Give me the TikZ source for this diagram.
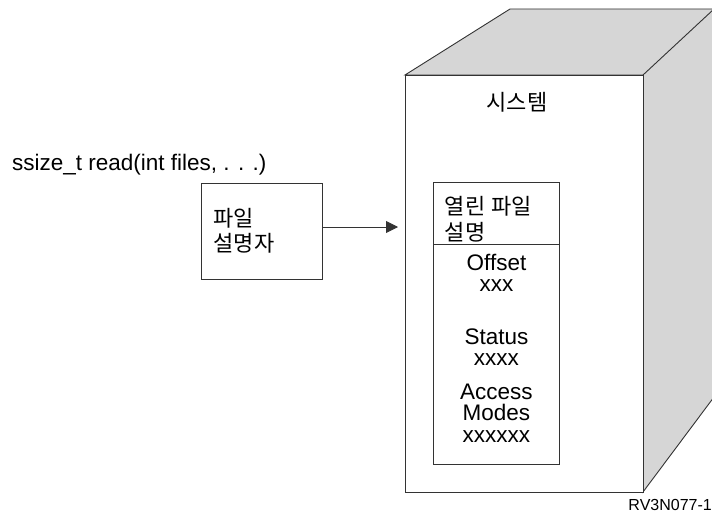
\documentclass[tikz,border=0pt]{standalone}
\usepackage{fontspec}
\setmainfont{Liberation Sans}
\newfontfamily\krfont[LetterSpace=2.5]{Noto Sans CJK KR}
\usetikzlibrary{arrows.meta}
\definecolor{sidegray}{HTML}{D6D6D6}
\definecolor{edge}{HTML}{333333}
\tikzset{
  box/.style={draw=edge,line width=0.9pt,fill=white},
  kr/.style={font=\krfont\fontsize{22}{25.5}\selectfont},
  lat/.style={font=\fontsize{22.5}{21.5}\selectfont},
  arr/.style={draw=edge,line width=0.9pt,-{Triangle[length=12pt,width=12pt]}}
}
\begin{document}
\begin{tikzpicture}[x=1pt,y=-1pt]
      \useasboundingbox (0,0) rectangle (712,516);
      \clip (0,0) rectangle (712,516);
      \begin{scope}
        \filldraw[fill=sidegray,draw=edge,line width=0.9pt](405,75)--(510,9)--(714,9)--(714,397)--(643,492)--(643,75)--cycle;
        \draw[edge,line width=0.9pt](643,75)--(714,9);
        \node[box,anchor=north west,minimum width=238pt,minimum height=417pt,inner sep=0pt] (front) at (405,75) {};
        \node[kr] (sys) at (517,102) {시스템};
      \end{scope}
      \begin{scope}
        \node[box,anchor=north west,minimum width=126pt,minimum height=282pt,inner sep=0pt] (oft) at (433,182) {};
        \draw[edge,line width=0.9pt]([yshift=-62pt]oft.north west)--([yshift=-62pt]oft.north east);
        \node[kr,anchor=west,align=left] (hdr) at (441,219) {열린 파일\\설명};
        \node[lat,align=center] (offset) at (oft.north |- 0,273) {Offset\\xxx};
        \node[lat,align=center] (status) at (oft.north |- 0,347) {Status\\xxxx};
        \node[lat,align=center] (modes) at (oft.north |- 0,413) {Access\\Modes\\xxxxxx};
      \end{scope}
      \node[lat,anchor=base west,inner sep=0pt] (sig) at (12,171) {ssize\_t read(int files, . . .)};
      \node[box,kr,minimum width=121pt,minimum height=96pt,text width=97pt,inner xsep=12pt,align=left] (fdbox) at (261.5,231) {파일\\설명자};
      \coordinate (tip) at (398,227);
      \draw[arr](fdbox.east |- tip)--(tip);
      \node[font=\fontsize{16}{16}\selectfont,anchor=base east,inner sep=0pt] (fig) at (712,510) {RV3N077-1};
    \end{tikzpicture}
\end{document}
